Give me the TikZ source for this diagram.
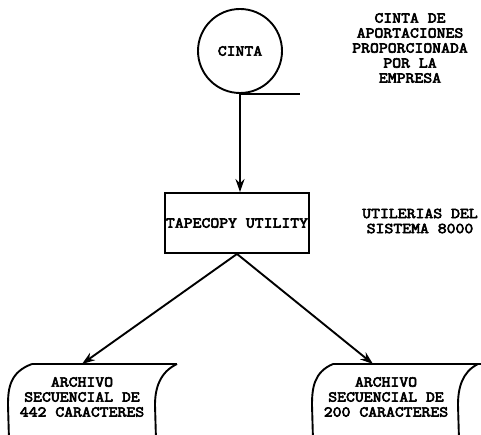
\documentclass[tikz,border=0pt]{standalone}
\usepackage{fontspec}
\usetikzlibrary{arrows.meta}
\newfontfamily\lblfont{Latin Modern Mono}[FakeBold=4,FakeStretch=1.15]
\begin{document}
\begin{tikzpicture}[x=1pt,y=-1pt,
  line width=1.9pt,
  lbl/.style={font=\lblfont\fontsize{15}{15}\selectfont, align=center, inner sep=0pt},
  flow/.style={-{Stealth[length=13pt,width=9pt]}}]
\useasboundingbox (0,0) rectangle (481,435);
\begin{scope}
\clip (0,0) rectangle (481,435);
% tape reel with its leader
\node[draw, circle, minimum size=84pt, inner sep=0pt, lbl] (cinta) at (240,51) {CINTA};
\draw (cinta.south) -- ++(60,0) coordinate (tan);
\node[lbl] (nota1) at (410,48) {CINTA DE\\APORTACIONES\\PROPORCIONADA\\POR LA\\EMPRESA};
% utility program
\node[draw, minimum width=144pt, minimum height=60pt, lbl] (util) at (237,223) {TAPECOPY UTILITY};
\node[lbl] (nota2) at (420,221) {UTILERIAS DEL\\SISTEMA 8000};
\draw[flow] (cinta.south) -- (cinta.south |- util.north);
% sequential files
\coordinate (f1) at (82,364);
\coordinate (f2) at (373,364);
\draw (32,364) -- (177,364);
\draw (32,364) .. controls (10,372) and (8,388) .. (8,405) -- (9,440);
\draw (177,364) .. controls (160,372) and (155,388) .. (155,405) -- (156,440);
\draw (333,364) -- (481,364);
\draw (333,364) .. controls (314,372) and (312,388) .. (312,405) -- (313,440);
\draw (478,364) .. controls (462,372) and (458,388) .. (458,405) -- (459,440);
\node[lbl] (arch1) at (82,397) {ARCHIVO\\SECUENCIAL DE\\442 CARACTERES};
\node[lbl] (arch2) at (386,397) {ARCHIVO\\SECUENCIAL DE\\200 CARACTERES};
\draw[flow] (util.south) -- (f1);
\draw[flow] (util.south) -- (f2);
\end{scope}
\end{tikzpicture}
\end{document}
